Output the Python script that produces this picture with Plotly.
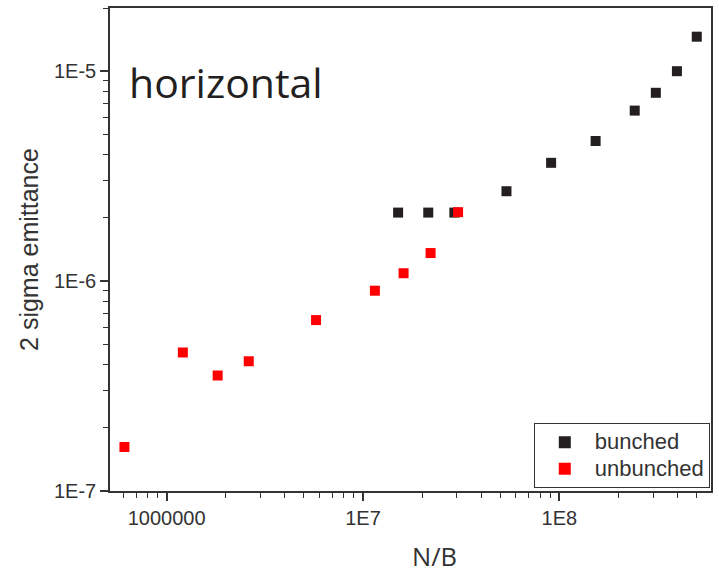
import numpy as np
import plotly.graph_objects as go

# data
bunched_x = [1.51e7, 2.15e7, 2.92e7, 5.38e7, 9.08e7, 1.53e8, 2.42e8, 3.10e8, 3.97e8, 5.01e8]
bunched_y = [2.12e-6, 2.12e-6, 2.12e-6, 2.68e-6, 3.66e-6, 4.65e-6, 6.49e-6, 7.89e-6, 1.0e-5, 1.46e-5]
unbunched_x = [6.1e5, 1.21e6, 1.82e6, 2.62e6, 5.77e6, 1.15e7, 1.61e7, 2.21e7, 3.05e7]
unbunched_y = [1.62e-7, 4.57e-7, 3.55e-7, 4.15e-7, 6.52e-7, 9.0e-7, 1.09e-6, 1.36e-6, 2.13e-6]

x_tickvals = [1e6, 1e7, 1e8]
x_ticktext = ["1000000", "1E7", "1E8"]
y_tickvals = [1e-7, 1e-6, 1e-5]
y_ticktext = ["1E-7", "1E-6", "1E-5"]

x_minor = [m * 10 ** e for e in range(5, 9) for m in range(2, 10)]
y_minor = [m * 10.0 ** e for e in range(-7, -4) for m in range(2, 10)]

fig = go.Figure()
fig.add_trace(go.Scatter(x=bunched_x, y=bunched_y, mode="markers",
                         name='<span style="font-size:22px">bunched</span>',
                         marker=dict(symbol="square", size=10, color="#231f20")))
fig.add_trace(go.Scatter(x=unbunched_x, y=unbunched_y, mode="markers",
                         name='<span style="font-size:22px">unbunched</span>',
                         marker=dict(symbol="square", size=10, color="#ff0000")))

axis_common = dict(showgrid=False, zeroline=False, showline=True, linecolor="#333333",
                   linewidth=1.5, mirror=True, ticks="outside", ticklen=8, tickwidth=1.5,
                   tickcolor="#333333", tickfont=dict(family="Liberation Sans, Arial", size=20, color="#333333"))

fig.update_xaxes(type="log", range=[np.log10(5.15e5), np.log10(5.92e8)],
                 tickmode="array", tickvals=x_tickvals, ticktext=x_ticktext,
                 minor=dict(tickmode="array", tickvals=x_minor, ticks="outside", ticklen=5,
                            tickwidth=1.2, tickcolor="#333333"),
                 **axis_common)
fig.update_yaxes(type="log", range=[-7, np.log10(2e-5)],
                 tickmode="array", tickvals=y_tickvals, ticktext=y_ticktext,
                 minor=dict(tickmode="array", tickvals=y_minor, ticks="outside", ticklen=5,
                            tickwidth=1.2, tickcolor="#333333"),
                 title=dict(text="2 sigma emittance",
                            font=dict(family="Liberation Sans, Arial", size=25, color="#333333"),
                            standoff=8),
                 **axis_common)

fig.add_annotation(text="horizontal", xref="paper", yref="paper", x=0.028, y=0.909,
                   xanchor="left", yanchor="top", showarrow=False,
                   font=dict(family="Open Sans", size=41, color="#231f20"))
fig.add_annotation(text="N/B", xref="paper", yref="paper", x=0.54, y=-0.135,
                   xanchor="center", yanchor="middle", showarrow=False,
                   font=dict(family="Open Sans", size=25.5, color="#333333"))

fig.update_layout(
    width=719, height=575,
    margin=dict(l=110, r=7, t=6, b=84),
    plot_bgcolor="white", paper_bgcolor="white",
    showlegend=True,
    legend=dict(x=0.998, y=0.006, xanchor="right", yanchor="bottom",
                bordercolor="#333333", borderwidth=1, bgcolor="white",
                font=dict(family="Liberation Sans, Arial", size=18, color="#333333"),
                itemsizing="constant", itemwidth=50),
)

fig.write_html("out.html")
